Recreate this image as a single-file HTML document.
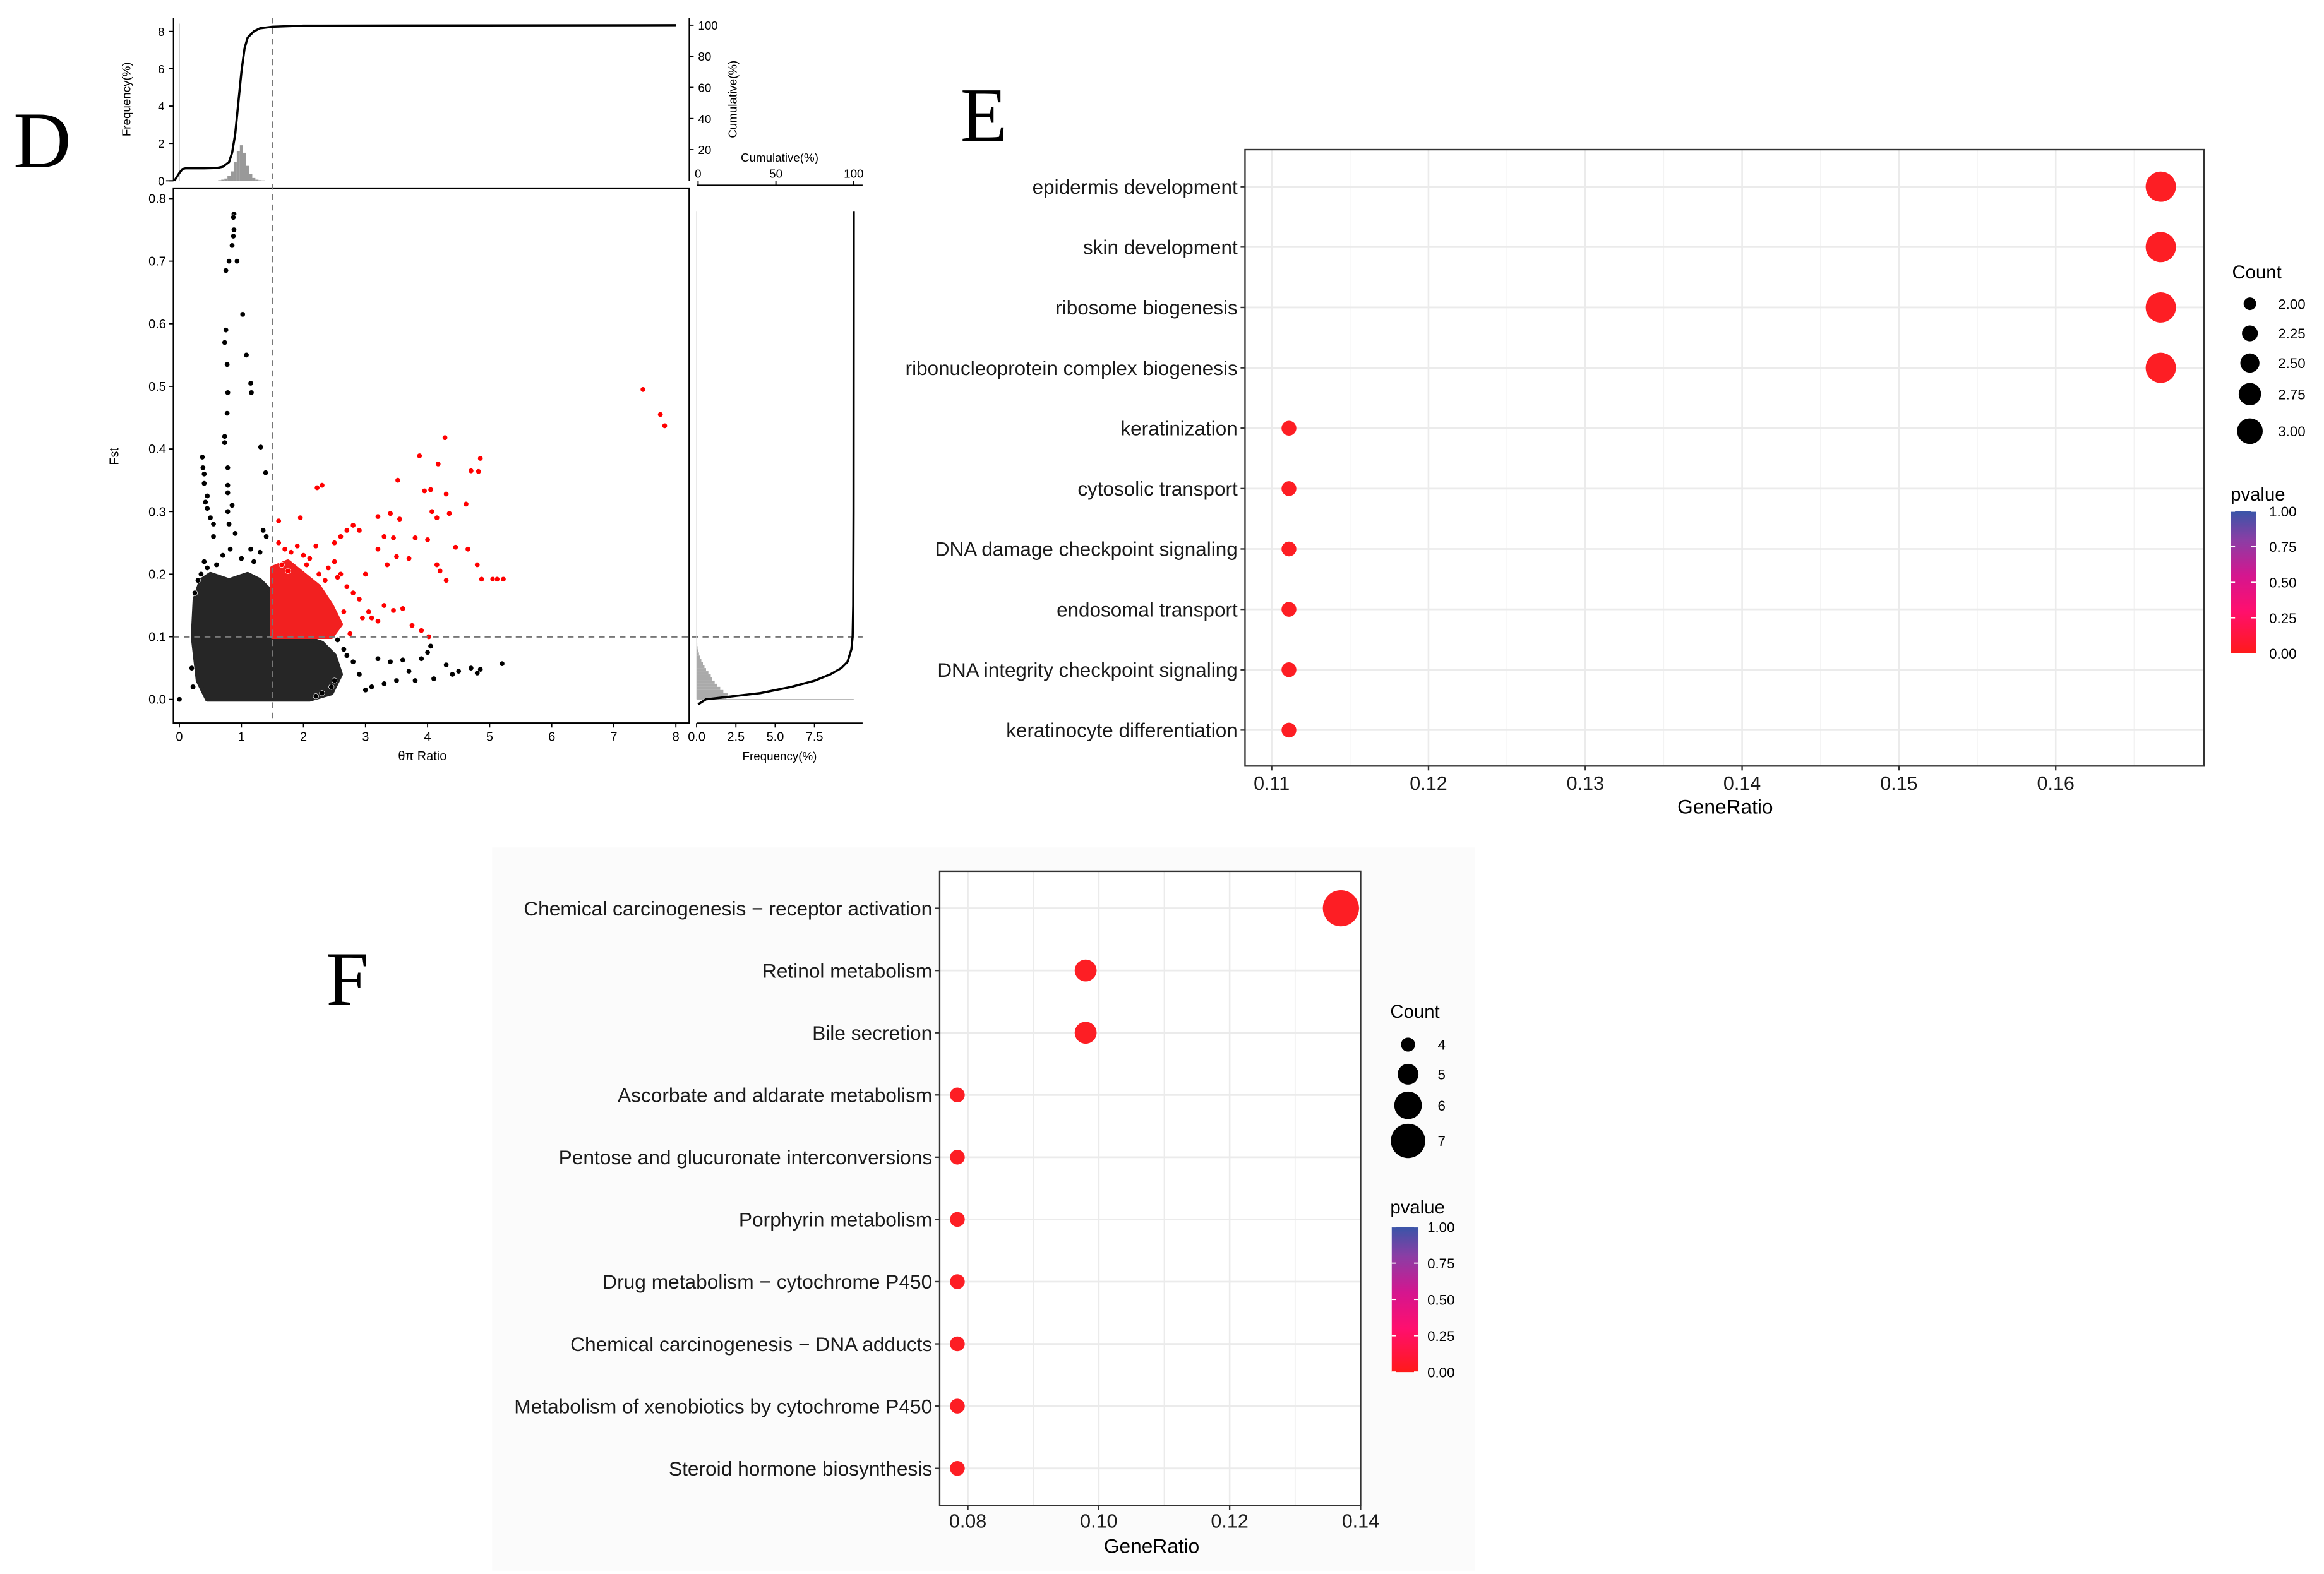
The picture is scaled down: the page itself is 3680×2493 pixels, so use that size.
<!DOCTYPE html>
<html><head><meta charset="utf-8"><style>
html,body{margin:0;padding:0;background:#fff}
svg{display:block}
</style></head><body>
<svg id="fig" xmlns="http://www.w3.org/2000/svg" width="3680" height="2493" viewBox="0 0 1568 1062.3" preserveAspectRatio="none" font-family="Liberation Sans, Arial, sans-serif">
<rect x="0" y="0" width="1568" height="1063" fill="#fff"/>
<g id="panelD"></g>
<g id="panelE"></g>
<g id="panelF"></g>
</svg>
<script>
// ---------- Panel D data ----------
const blackX=[0.88,0.87,0.88,0.87,0.85,0.8,0.75,0.93,1.02,0.75,0.73,1.08,0.77,1.15,1.16,0.78,0.77,0.73,0.73,1.31,0.37,0.38,0.4,1.39,0.78,0.4,0.78,0.45,0.42,0.78,0.85,0.45,0.78,0.5,0.55,0.8,0.55,1.35,1.4,0.9,0.82,1.15,0.4,4.05,4.0,3.9,4.3,5.2,4.7,4.85,4.4,4.8,3.5,3.8,4.1,3.2,3.4,3.6,3.0,3.3,0,3.7,4.5,2.9,3.1,0.2,0.22,2.7,2.8,0.45,0.6,0.7,1.0,1.2,1.3,0.35,0.3,0.25,2.55,2.65,2.45,2.3,2.2,2.5];
const blackY=[0.775,0.77,0.75,0.74,0.725,0.7,0.685,0.7,0.615,0.59,0.57,0.55,0.535,0.505,0.49,0.49,0.457,0.42,0.41,0.403,0.387,0.37,0.36,0.362,0.37,0.345,0.342,0.325,0.315,0.33,0.31,0.305,0.3,0.29,0.28,0.28,0.26,0.27,0.26,0.265,0.24,0.24,0.22,0.085,0.075,0.065,0.055,0.057,0.05,0.048,0.04,0.042,0.03,0.03,0.033,0.065,0.06,0.063,0.015,0.025,0,0.045,0.045,0.04,0.02,0.05,0.02,0.07,0.06,0.21,0.215,0.23,0.225,0.22,0.235,0.2,0.19,0.17,0.095,0.08,0.02,0.01,0.005,0.03];
const redX=[7.47,7.75,7.82,4.28,3.87,4.85,4.17,4.7,4.82,3.52,2.3,2.22,4.05,3.95,4.3,4.62,4.07,4.35,3.4,3.2,1.95,3.55,4.15,1.6,2.8,2.7,3.3,3.45,3.8,4.0,4.65,4.45,3.2,3.5,3.7,4.8,4.15,4.2,4.3,4.87,5.05,5.12,5.22,3.35,3.0,3.6,3.45,3.1,3.9,3.75,3.2,4.02,2.75,3.3,3.05,2.9,2.6,2.5,1.6,1.7,1.8,1.9,2.0,2.1,2.2,2.4,2.5,2.6,2.7,1.65,1.75,2.05,2.25,2.35,2.55,2.8,2.9,2.95,2.65];
const redY=[0.495,0.455,0.437,0.418,0.389,0.385,0.376,0.365,0.364,0.35,0.342,0.338,0.335,0.333,0.328,0.312,0.3,0.297,0.297,0.292,0.29,0.288,0.29,0.285,0.278,0.27,0.26,0.258,0.258,0.255,0.24,0.243,0.24,0.228,0.225,0.215,0.215,0.205,0.19,0.192,0.192,0.192,0.192,0.215,0.2,0.145,0.142,0.13,0.11,0.118,0.125,0.1,0.105,0.15,0.14,0.27,0.26,0.25,0.25,0.24,0.235,0.245,0.23,0.225,0.245,0.21,0.22,0.2,0.18,0.215,0.205,0.215,0.2,0.19,0.195,0.17,0.16,0.13,0.14];
const blackCloudX=[0.25,0.35,0.5,0.8,1.1,1.3,1.5,1.5,2.0,2.3,2.5,2.6,2.45,2.1,0.45,0.3,0.22];
const blackCloudY=[0.16,0.19,0.2,0.19,0.2,0.19,0.17,0.1,0.1,0.09,0.07,0.04,0.01,0.0,0.0,0.03,0.1];
const redCloudX=[1.5,1.5,1.75,2.0,2.25,2.45,2.6,2.45,2.1];
const redCloudY=[0.1,0.21,0.22,0.2,0.18,0.15,0.12,0.1,0.1];
const cumTopX=[-0.08,0,0.05,0.1,0.2,0.4,0.6,0.7,0.8,0.85,0.9,0.95,1.0,1.05,1.1,1.2,1.3,1.5,2,8];
const cumTopY=[0,5,7.5,8,8,8,8.2,9,12,18,30,50,70,85,92,96,98,99,99.7,100];
const histTopX=[0.65,0.7,0.75,0.8,0.85,0.9,0.95,1.0,1.05,1.1,1.15,1.2,1.25,1.3,1.35,1.4];
const histTopY=[0.03,0.06,0.12,0.25,0.5,1.0,1.6,1.9,1.5,0.8,0.35,0.15,0.06,0.03,0.02,0.01];
const histRightFst=[0.0025,0.0075,0.0125,0.0175,0.0225,0.0275,0.0325,0.0375,0.0425,0.0475,0.0525,0.0575,0.0625,0.0675,0.0725,0.0775,0.0825,0.0875,0.0925,0.0975];
const histRightFreq=[1.9,2.0,1.7,1.5,1.3,1.15,1.0,0.9,0.75,0.6,0.5,0.4,0.3,0.22,0.15,0.1,0.06,0.04,0.03,0.02];
const cumRightFst=[-0.008,0,0.01,0.02,0.03,0.04,0.05,0.06,0.08,0.1,0.15,0.3,0.78];
const cumRightPct=[0,5,40,60,75,85,92,96,98.5,99.3,99.7,99.9,100];
const dXTicks=[0,1,2,3,4,5,6,7,8];
const dYTicks=[0.0,0.1,0.2,0.3,0.4,0.5,0.6,0.7,0.8];

// ---------- Panel E data ----------
const eTerms=["epidermis development","skin development","ribosome biogenesis","ribonucleoprotein complex biogenesis","keratinization","cytosolic transport","DNA damage checkpoint signaling","endosomal transport","DNA integrity checkpoint signaling","keratinocyte differentiation"];
const eRatio=[0.1667,0.1667,0.1667,0.1667,0.1111,0.1111,0.1111,0.1111,0.1111,0.1111];
const eCount=[3,3,3,3,2,2,2,2,2,2];
const eTicks=[0.11,0.12,0.13,0.14,0.15,0.16];
const eCountLegend=[2.00,2.25,2.50,2.75,3.00];

// ---------- Panel F data ----------
const fTerms=["Chemical carcinogenesis \u2212 receptor activation","Retinol metabolism","Bile secretion","Ascorbate and aldarate metabolism","Pentose and glucuronate interconversions","Porphyrin metabolism","Drug metabolism \u2212 cytochrome P450","Chemical carcinogenesis \u2212 DNA adducts","Metabolism of xenobiotics by cytochrome P450","Steroid hormone biosynthesis"];
const fRatio=[0.137,0.098,0.098,0.0784,0.0784,0.0784,0.0784,0.0784,0.0784,0.0784];
const fCount=[7,5,5,4,4,4,4,4,4,4];
const fTicks=[0.08,0.10,0.12,0.14];
const fCountLegend=[4,5,6,7];
const pvalTicks=[1.00,0.75,0.50,0.25,0.00];

const NS="http://www.w3.org/2000/svg";
function mk(parent,tag,attrs,txt){const e=document.createElementNS(NS,tag);for(const k in attrs)e.setAttribute(k,attrs[k]);if(txt!==undefined)e.textContent=txt;parent.appendChild(e);return e;}
const SERIF='font-family:"Liberation Serif",serif';

// ===== Panel D =====
(function(){
const g=document.getElementById('panelD');
const L=117,R=465,T=127,B=488;
const sx=v=>121+v*41.875, sy=v=>472-v*422.5;
let t=mk(g,'text',{x:9,y:113,'font-size':54,style:SERIF},'D');


let box=mk(g,'rect',{x:L,y:T,width:R-L,height:B-T,fill:'none',stroke:'#000','stroke-width':1});


let pts=blackCloudX.map((x,i)=>sx(x)+','+sy(blackCloudY[i])).join(' ');
let bc=mk(g,'polygon',{points:pts,fill:'#262626',stroke:'#262626','stroke-width':3,'stroke-linejoin':'round'});


pts=redCloudX.map((x,i)=>sx(x)+','+sy(redCloudY[i])).join(' ');
let rc=mk(g,'polygon',{points:pts,fill:'#f22020',stroke:'#f22020','stroke-width':3,'stroke-linejoin':'round'});


for(let i=0;i<blackX.length;i++){let c=mk(g,'circle',{cx:sx(blackX[i]),cy:sy(blackY[i]),r:1.8,fill:'#000',stroke:'#fff','stroke-width':0.3});

}
for(let i=0;i<redX.length;i++){let c=mk(g,'circle',{cx:sx(redX[i]),cy:sy(redY[i]),r:1.8,fill:'#f00',stroke:'#fff','stroke-width':0.3});

}
let vl=mk(g,'line',{x1:sx(1.5),x2:sx(1.5),y1:12,y2:B,stroke:'#777','stroke-width':1.1,'stroke-dasharray':'4,3'});


let hl=mk(g,'line',{x1:L,x2:582,y1:sy(0.1),y2:sy(0.1),stroke:'#777','stroke-width':1.1,'stroke-dasharray':'4,3'});


dXTicks.forEach(v=>{mk(g,'line',{x1:sx(v),x2:sx(v),y1:B,y2:B+3,stroke:'#000','stroke-width':0.8});
let tx=mk(g,'text',{x:sx(v),y:B+12,'font-size':8.5,'text-anchor':'middle'},String(v));

});
dYTicks.forEach(v=>{mk(g,'line',{x1:L-3,x2:L,y1:sy(v),y2:sy(v),stroke:'#000','stroke-width':0.8});
let tx=mk(g,'text',{x:L-5,y:sy(v)+3,'font-size':8.5,'text-anchor':'end'},v.toFixed(1));

});
t=mk(g,'text',{x:285,y:513,'font-size':8.5,'text-anchor':'middle'},'θπ Ratio');


t=mk(g,'text',{x:80,y:308,'font-size':8.5,'text-anchor':'middle',transform:'rotate(-90 80 308)'},'Fst');


const ty0=122, fy=v=>ty0-v*12.6, cy=v=>ty0-v*1.05;
mk(g,'line',{x1:L,x2:L,y1:12,y2:ty0,stroke:'#000','stroke-width':0.8});
mk(g,'line',{x1:112,x2:L,y1:ty0,y2:ty0,stroke:'#000','stroke-width':0.8});
mk(g,'line',{x1:R,x2:R,y1:12,y2:ty0,stroke:'#000','stroke-width':0.8});
mk(g,'line',{x1:sx(0),x2:sx(0),y1:ty0,y2:16,stroke:'#bbb','stroke-width':0.6});
[0,2,4,6,8].forEach(v=>{mk(g,'line',{x1:L-3,x2:L,y1:fy(v),y2:fy(v),stroke:'#000','stroke-width':0.8});
let tx=mk(g,'text',{x:L-6,y:fy(v)+3,'font-size':8,'text-anchor':'end'},String(v));

});
[20,40,60,80,100].forEach(v=>{mk(g,'line',{x1:R,x2:R+3,y1:cy(v),y2:cy(v),stroke:'#000','stroke-width':0.8});
let tx=mk(g,'text',{x:R+6,y:cy(v)+3,'font-size':8},String(v));

});
t=mk(g,'text',{x:88,y:67,'font-size':8,'text-anchor':'middle',transform:'rotate(-90 88 67)'},'Frequency(%)');


t=mk(g,'text',{x:497,y:67,'font-size':8,'text-anchor':'middle',transform:'rotate(-90 497 67)'},'Cumulative(%)');


histTopX.forEach((x,i)=>{let r=mk(g,'rect',{x:sx(x-0.025),y:fy(histTopY[i]),width:0.05*41.875,height:histTopY[i]*12.6,fill:'#999'});

});
let p=mk(g,'polyline',{points:cumTopX.map((x,i)=>Math.min(sx(x),R)+','+cy(cumTopY[i])).join(' '),fill:'none',stroke:'#000','stroke-width':1.5});


const rx0=470, fx=v=>rx0+v*10.6, cx=v=>471+v*1.05;
mk(g,'line',{x1:rx0,x2:582,y1:B,y2:B,stroke:'#000','stroke-width':0.8});
mk(g,'line',{x1:rx0,x2:582,y1:T-2,y2:T-2,stroke:'#000','stroke-width':0.8});
[0,2.5,5,7.5].forEach(v=>{mk(g,'line',{x1:fx(v),x2:fx(v),y1:B,y2:B+3,stroke:'#000','stroke-width':0.8});
let tx=mk(g,'text',{x:fx(v),y:B+12,'font-size':8.5,'text-anchor':'middle'},v.toFixed(1));

});
[0,50,100].forEach(v=>{mk(g,'line',{x1:cx(v),x2:cx(v),y1:T-5,y2:T-2,stroke:'#000','stroke-width':0.8});
let tx=mk(g,'text',{x:cx(v),y:T-7,'font-size':8,'text-anchor':'middle'},String(v));

});
t=mk(g,'text',{x:526,y:513,'font-size':8,'text-anchor':'middle'},'Frequency(%)');


t=mk(g,'text',{x:526,y:109,'font-size':8,'text-anchor':'middle'},'Cumulative(%)');


mk(g,'line',{x1:rx0,x2:576,y1:sy(0),y2:sy(0),stroke:'#bbb','stroke-width':0.6});
mk(g,'line',{x1:rx0,x2:rx0,y1:sy(0),y2:sy(0.78),stroke:'#ddd','stroke-width':0.6});
histRightFst.forEach((f,i)=>{let r=mk(g,'rect',{x:rx0,y:sy(f+0.0025),width:histRightFreq[i]*10.6,height:0.005*422.5,fill:'#aaa'});

});
p=mk(g,'polyline',{points:cumRightFst.map((f,i)=>cx(cumRightPct[i])+','+sy(f)).join(' '),fill:'none',stroke:'#000','stroke-width':1.5});


})();

function pColor(){return '#fd1e24';}

function colorbar(g,x,y,w,h,lx,id){
const defs=mk(g,'defs',{});
const lg=mk(defs,'linearGradient',{id:'grad'+id,x1:0,y1:1,x2:0,y2:0});
mk(lg,'stop',{offset:'0','stop-color':'#ff1a1a'});
mk(lg,'stop',{offset:'0.3','stop-color':'#ff0f6e'});
mk(lg,'stop',{offset:'0.55','stop-color':'#d4168f'});
mk(lg,'stop',{offset:'0.8','stop-color':'#8a3ea5'});
mk(lg,'stop',{offset:'1','stop-color':'#3955a8'});
let r=mk(g,'rect',{x:x,y:y,width:w,height:h,fill:'url(#grad'+id+')'});


pvalTicks.forEach(v=>{const yy=y+h*(1-v);
mk(g,'line',{x1:x,x2:x+3,y1:yy,y2:yy,stroke:'#fff','stroke-width':0.8});
mk(g,'line',{x1:x+w-3,x2:x+w,y1:yy,y2:yy,stroke:'#fff','stroke-width':0.8});
let tx=mk(g,'text',{x:lx,y:yy+3.5,'font-size':9.5},v.toFixed(2));

});
}

// ===== Panel E =====
(function(){
const g=document.getElementById('panelE');
const L=840,R=1487,T=101,B=517;
const sx=v=>858+(v-0.11)*10580, rowY=i=>126+i*40.75;
const rad=c=>5+(c-2)*5.2;
let t=mk(g,'text',{x:648,y:95,'font-size':52,style:SERIF},'E');


mk(g,'rect',{x:L,y:T,width:R-L,height:B-T,fill:'#fff'});
for(let k=0;k<14;k++){const v=0.105+k*0.005;const x=sx(v);const major=(k%2==1);if(x>L&&x<R)mk(g,'line',{x1:x,x2:x,y1:T,y2:B,stroke:major?'#ebebeb':'#f3f3f3','stroke-width':major?1.1:0.6});}
eTerms.forEach((s,i)=>{mk(g,'line',{x1:L,x2:R,y1:rowY(i),y2:rowY(i),stroke:'#ebebeb','stroke-width':1.2});});
let b=mk(g,'rect',{x:L,y:T,width:R-L,height:B-T,fill:'none',stroke:'#333','stroke-width':1});


eTerms.forEach((s,i)=>{mk(g,'line',{x1:L-3,x2:L,y1:rowY(i),y2:rowY(i),stroke:'#333'});
let tx=mk(g,'text',{x:L-5,y:rowY(i)+4.8,'font-size':13.4,'text-anchor':'end',fill:'#1a1a1a'},s);


let c=mk(g,'circle',{cx:sx(eRatio[i]),cy:rowY(i),r:rad(eCount[i]),fill:pColor()});

});
eTicks.forEach(v=>{mk(g,'line',{x1:sx(v),x2:sx(v),y1:B,y2:B+3,stroke:'#333'});
let tx=mk(g,'text',{x:sx(v),y:B+16,'font-size':13,'text-anchor':'middle',fill:'#1a1a1a'},v.toFixed(2));

});
t=mk(g,'text',{x:1164,y:549,'font-size':13.5,'text-anchor':'middle'},'GeneRatio');


t=mk(g,'text',{x:1506,y:188,'font-size':12.5},'Count');


const ly=[205,225,245,266,291];
eCountLegend.forEach((v,i)=>{let c=mk(g,'circle',{cx:1518,cy:ly[i],r:rad(v)*0.85,fill:'#000'});


let tx=mk(g,'text',{x:1537,y:ly[i]+3.5,'font-size':9.5},v.toFixed(2));

});
t=mk(g,'text',{x:1505,y:338,'font-size':12.5},'pvalue');


colorbar(g,1505,345,17,96,1531,'e');
})();

// ===== Panel F =====
(function(){
const g=document.getElementById('panelF');
const L=634,R=918,T=588,B=1016;
const sx=v=>653+(v-0.08)*4416, rowY=i=>613+i*42;
const rad=c=>5+(c-4)*2.4;
let bg=mk(g,'rect',{x:332,y:572,width:663,height:488,fill:'#fbfbfb'});


let t=mk(g,'text',{x:220,y:678,'font-size':52,style:SERIF},'F');


mk(g,'rect',{x:L,y:T,width:R-L,height:B-T,fill:'#fff'});
for(let k=0;k<7;k++){const v=0.08+k*0.01;const x=sx(v);if(x>L&&x<R)mk(g,'line',{x1:x,x2:x,y1:T,y2:B,stroke:'#ebebeb','stroke-width':(k%2==0)?1.1:0.7});}
fTerms.forEach((s,i)=>{mk(g,'line',{x1:L,x2:R,y1:rowY(i),y2:rowY(i),stroke:'#ebebeb','stroke-width':1.2});});
let b=mk(g,'rect',{x:L,y:T,width:R-L,height:B-T,fill:'none',stroke:'#333','stroke-width':1});


fTerms.forEach((s,i)=>{mk(g,'line',{x1:L-3,x2:L,y1:rowY(i),y2:rowY(i),stroke:'#333'});
let tx=mk(g,'text',{x:L-5,y:rowY(i)+4.8,'font-size':13.5,'text-anchor':'end',fill:'#1a1a1a'},s);


let c=mk(g,'circle',{cx:sx(fRatio[i]),cy:rowY(i),r:rad(fCount[i]),fill:pColor()});

});
fTicks.forEach(v=>{mk(g,'line',{x1:sx(v),x2:sx(v),y1:B,y2:B+3,stroke:'#333'});
let tx=mk(g,'text',{x:sx(v),y:B+15,'font-size':13,'text-anchor':'middle',fill:'#1a1a1a'},v.toFixed(2));

});
t=mk(g,'text',{x:777,y:1048,'font-size':13.5,'text-anchor':'middle'},'GeneRatio');


t=mk(g,'text',{x:938,y:687,'font-size':12.5},'Count');


const ly=[705,725,746,770];
fCountLegend.forEach((v,i)=>{let c=mk(g,'circle',{cx:950,cy:ly[i],r:rad(v)*0.95,fill:'#000'});


let tx=mk(g,'text',{x:970,y:ly[i]+3.5,'font-size':9.5},String(v));

});
t=mk(g,'text',{x:938,y:819,'font-size':12.5},'pvalue');


colorbar(g,939,828,18,98,963,'f');
})();
</script>
</body></html>
